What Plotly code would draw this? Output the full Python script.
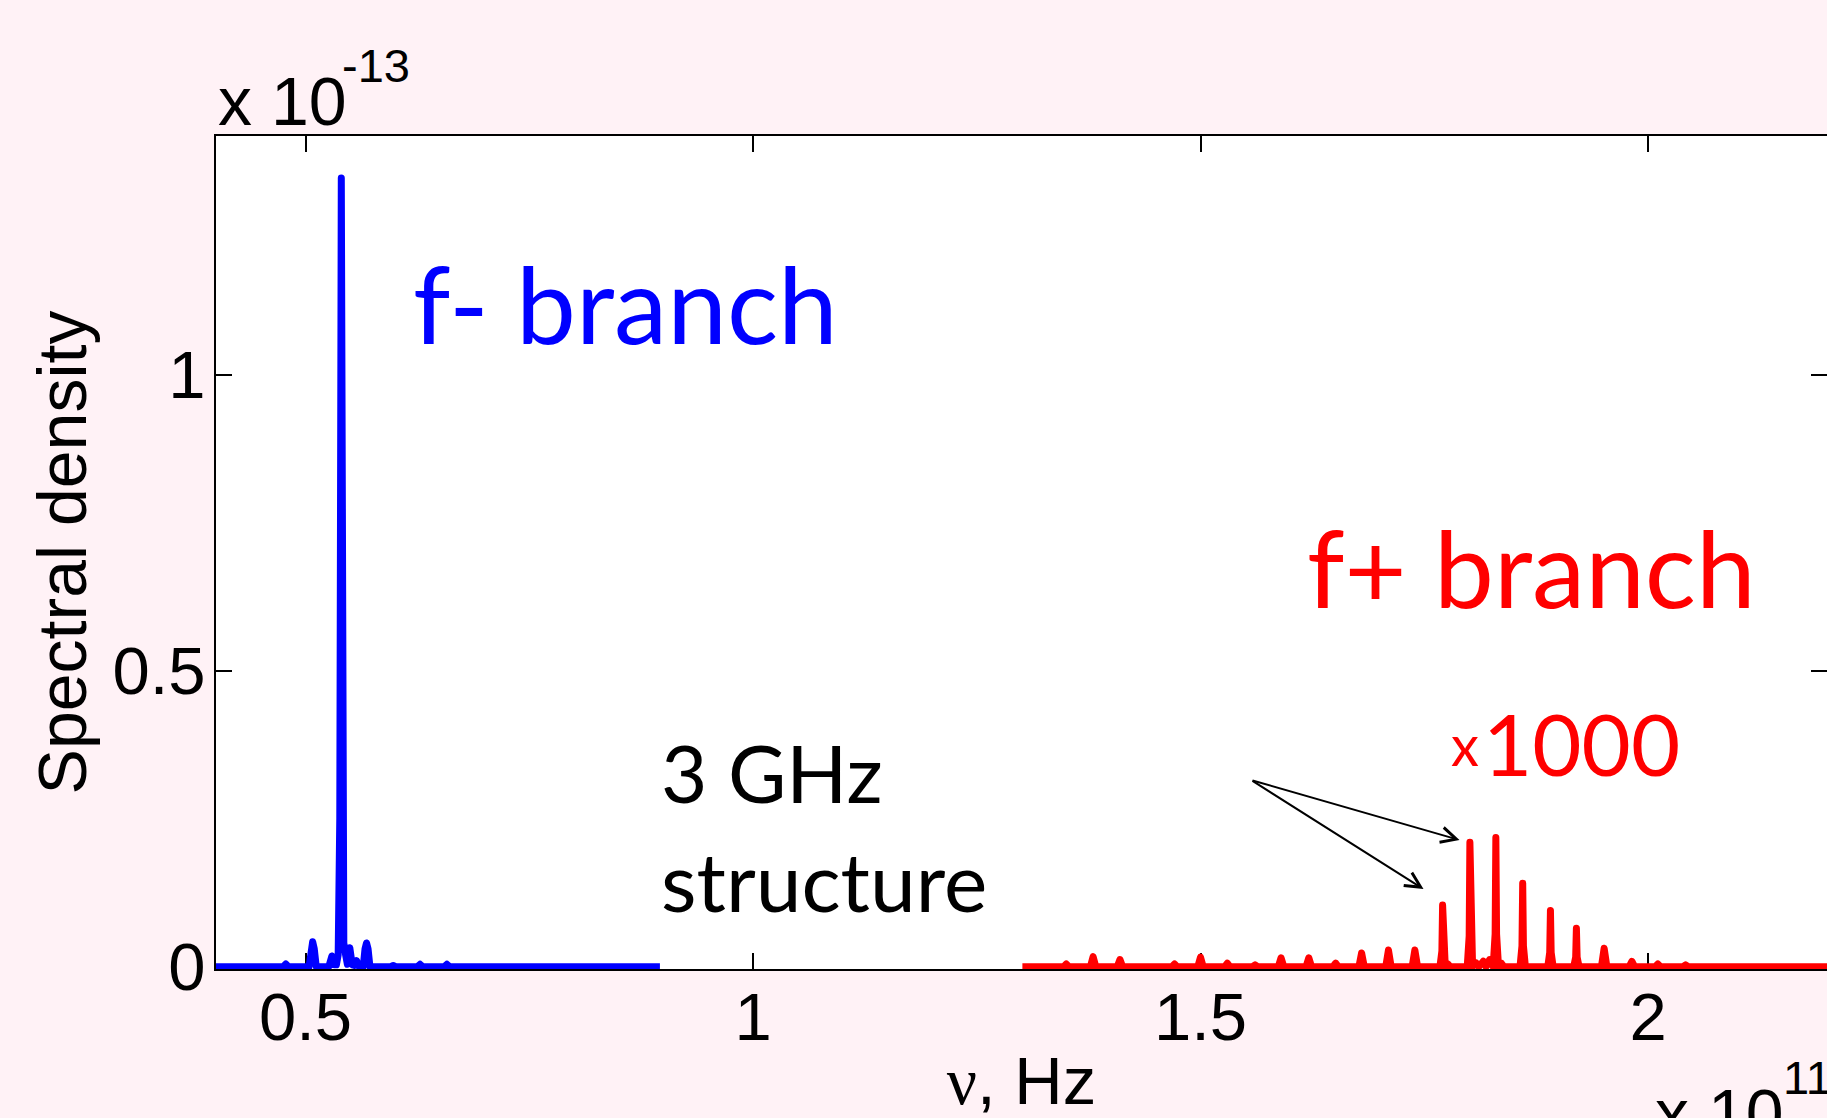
import plotly.graph_objects as go

# ---------------- data (frequency in units of 1e11 Hz, density in units of 1e-13) -------------
# f- branch (blue) line vertices
blue_nu = [
    0.400,
    0.4750, 0.478, 0.4810,
    0.5040, 0.5062, 0.508, 0.5098, 0.5120,
    0.5260, 0.5295, 0.532,
    0.5345, 0.5365, 0.5383, 0.5400, 0.5415, 0.5428, 0.5448, 0.5468,
    0.5495, 0.5522,
    0.5545, 0.5570, 0.5595,
    0.5645, 0.5665, 0.5682, 0.5699, 0.5720,
    0.5950, 0.598, 0.6010,
    0.6250, 0.628, 0.6310,
    0.6550, 0.658, 0.6610,
    0.7150, 0.718, 0.7210,
    0.896,
]
blue_sd = [
    0.0,
    0.0, 0.0045, 0.0,
    0.0, 0.030, 0.042, 0.030, 0.0,
    0.0, 0.018, 0.003,
    0.003, 0.020, 0.25, 1.332, 0.25, 0.040, 0.020, 0.004,
    0.032, 0.003,
    0.002, 0.010, 0.001,
    0.0, 0.030, 0.040, 0.030, 0.0,
    0.0, 0.002, 0.0,
    0.0, 0.004, 0.0,
    0.0, 0.004, 0.0,
    0.0, 0.002, 0.0,
    0.0,
]

# f+ branch (red, shown x1000) line vertices
red_nu = [
    1.301,
    1.347, 1.350, 1.353,
    1.377, 1.380, 1.383,
    1.407, 1.410, 1.413,
    1.468, 1.471, 1.474,
    1.497, 1.500, 1.503,
    1.527, 1.530, 1.533,
    1.558, 1.561, 1.564,
    1.587, 1.590, 1.593,
    1.618, 1.621, 1.624,
    1.648, 1.651, 1.654,
    1.677, 1.680, 1.683,
    1.707, 1.710, 1.713,
    1.7365, 1.7395, 1.7425,
    1.7675, 1.7697, 1.7705, 1.7713, 1.7735, 1.776, 1.779,
    1.798, 1.8002, 1.801, 1.8018, 1.804, 1.808, 1.811, 1.816, 1.819, 1.823, 1.8255,
    1.827, 1.8292, 1.830, 1.8308, 1.833, 1.836, 1.839,
    1.857, 1.8592, 1.860, 1.8608, 1.863,
    1.888, 1.8902, 1.891, 1.8918, 1.894,
    1.917, 1.9192, 1.920, 1.9208, 1.923,
    1.948, 1.951, 1.954,
    1.979, 1.982, 1.985,
    2.008, 2.011, 2.014,
    2.039, 2.042, 2.045,
    2.070, 2.073, 2.076,
    2.200,
]
red_sd = [
    0.0,
    0.0, 0.0045, 0.0,
    0.0, 0.017, 0.0,
    0.0, 0.012, 0.0,
    0.0, 0.0045, 0.0,
    0.0, 0.016, 0.0,
    0.0, 0.0056, 0.0,
    0.0, 0.003, 0.0,
    0.0, 0.015, 0.0,
    0.0, 0.015, 0.0,
    0.0, 0.006, 0.0,
    0.0, 0.023, 0.0,
    0.0, 0.028, 0.0,
    0.0, 0.028, 0.0,
    0.0, 0.026, 0.104, 0.026, 0.0, 0.005, 0.0,
    0.0, 0.052, 0.210, 0.052, 0.0, 0.006, 0.0, 0.009, 0.0, 0.012, 0.0,
    0.0, 0.055, 0.218, 0.055, 0.0, 0.006, 0.0,
    0.0, 0.035, 0.141, 0.035, 0.0,
    0.0, 0.024, 0.095, 0.024, 0.0,
    0.0, 0.016, 0.065, 0.016, 0.0,
    0.0, 0.031, 0.0,
    0.0, 0.009, 0.0,
    0.0, 0.0045, 0.0,
    0.0, 0.003, 0.0,
    0.0, 0.002, 0.0,
    0.0,
]

x_tickvals = [0.5, 1.0, 1.5, 2.0]
x_ticktext = ["0.5", "1", "1.5", "2"]
y_tickvals = [0.0, 0.5, 1.0]
y_ticktext = ["0", "0.5", "1"]

# ---------------- figure ----------------
W, H = 1827, 1118
L, R, T, B = 216, 0, 136, 149
PW, PH = W - L - R, H - T - B


def px(xp):
    return (xp - L) / PW


def py(yp):
    return (H - B - yp) / PH


fig = go.Figure()
fig.add_trace(go.Scatter(x=blue_nu, y=blue_sd, mode="lines",
                         line=dict(color="#0000ff", width=7), name="f- branch",
                         hoverinfo="skip"))
fig.add_trace(go.Scatter(x=red_nu, y=red_sd, mode="lines",
                         line=dict(color="#ff0000", width=7), name="f+ branch x1000",
                         hoverinfo="skip"))

axis_common = dict(
    ticks="inside", ticklen=16, tickwidth=1.5, tickcolor="black",
    showline=True, linecolor="black", linewidth=2, mirror="ticks",
    showgrid=False, zeroline=False, layer="below traces",
    tickfont=dict(size=67, color="black"),
)

fig.update_layout(
    width=W, height=H,
    margin=dict(l=L, r=R, t=T, b=B, autoexpand=False),
    paper_bgcolor="#fff2f6", plot_bgcolor="white",
    showlegend=False,
    font=dict(family="Liberation Sans, Arial, sans-serif", size=67, color="black"),
    xaxis=dict(range=[0.4, 2.2], tickvals=x_tickvals, ticktext=x_ticktext,
               ticklabelstandoff=-11,
               title=dict(text="<span style='font-family:Liberation Serif'>ν</span>, Hz",
                          font=dict(size=67), standoff=28),
               **axis_common),
    yaxis=dict(range=[-0.004, 1.403], tickvals=y_tickvals, ticktext=y_ticktext,
               ticklabelstandoff=-5,
               title=dict(text="Spectral density", font=dict(size=68), standoff=4),
               **axis_common),
)

ann = []
# exponent labels (MATLAB style)
ann.append(dict(text="x 10", x=px(216), y=py(101), xanchor="left", yanchor="middle",
                font=dict(size=68)))
ann.append(dict(text="-13", x=px(340), y=py(65), xanchor="left", yanchor="middle",
                font=dict(size=47)))
ann.append(dict(text="x 10", x=px(1653), y=py(1113), xanchor="left", yanchor="middle",
                font=dict(size=68)))
ann.append(dict(text="11", x=px(1781), y=py(1077), xanchor="left", yanchor="middle",
                font=dict(size=47)))
# slide-style labels
ann.append(dict(text="f- branch", x=px(411), y=py(302), xanchor="left", yanchor="middle",
                font=dict(family="Lato", size=107, color="#0000ff")))
ann.append(dict(text="f+ branch", x=px(1305), y=py(566), xanchor="left", yanchor="middle",
                font=dict(family="Lato", size=107, color="#ff0000")))
ann.append(dict(text="x", x=px(1449), y=py(744), xanchor="left", yanchor="middle",
                font=dict(family="Lato", size=56, color="#ff0000")))
ann.append(dict(text="1000", x=px(1481), y=py(743), xanchor="left", yanchor="middle",
                font=dict(family="Lato", size=85, color="#ff0000")))
ann.append(dict(text="3 GHz", x=px(659), y=py(772), xanchor="left", yanchor="middle",
                font=dict(family="Lato", size=80, color="black")))
ann.append(dict(text="structure", x=px(659), y=py(880), xanchor="left", yanchor="middle",
                font=dict(family="Lato", size=82, color="black")))
for a in ann:
    a.update(xref="paper", yref="paper", showarrow=False)

# arrows pointing at the 3 GHz structure (tail given as pixel offset from head)
tail = (1251, 780)
heads = [(1459.5, 840), (1423.5, 889)]
for hx, hy in heads:
    ann.append(dict(text="", x=px(hx), y=py(hy), ax=tail[0] - hx, ay=tail[1] - hy,
                    xref="paper", yref="paper", axref="pixel", ayref="pixel",
                    showarrow=True, arrowhead=5, arrowsize=1.5, arrowwidth=2,
                    arrowcolor="black", standoff=0))

fig.update_layout(annotations=ann)

# rounded joins so the narrow spectral peaks get rounded tops (as in the original)
round_joins = (
    "document.querySelectorAll('.scatterlayer path.js-line').forEach("
    "function(p){p.style.strokeLinejoin='round';});"
)
fig.write_html("out.html", post_script=round_joins)
